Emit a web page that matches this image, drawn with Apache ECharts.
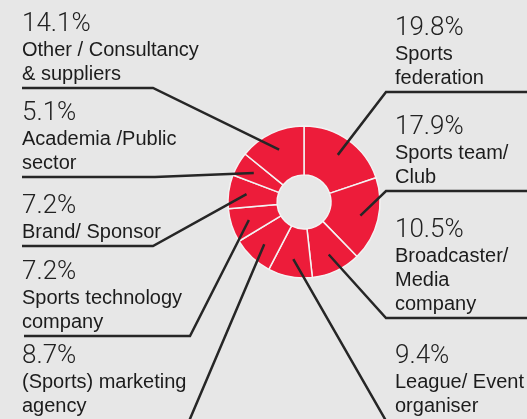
<!DOCTYPE html>
<html>
<head>
<meta charset="utf-8">
<script src="https://cdn.jsdelivr.net/npm/echarts@6/dist/echarts.min.js"></script>
<style>
html, body { margin: 0; padding: 0; background: #e7e7e7; }
#chart { width: 527px; height: 419px; }
</style>
</head>
<body>
<div id="chart"></div>
<script>
// clockwise from 12 o'clock
var categories = ['Sports\nfederation', 'Sports team/\nClub', 'Broadcaster/\nMedia\ncompany', 'League/ Event\norganiser',
	'(Sports) marketing\nagency', 'Sports technology\ncompany', 'Brand/ Sponsor', 'Academia /Public\nsector',
	'Other / Consultancy\n& suppliers'];
var shares = [19.8, 17.9, 10.5, 9.4, 8.7, 7.2, 7.2, 5.1, 14.1];

// where each label sits: [textX, underlineY, elbowX, elbowY, endX]
var labelSpots = [
	[395, 92, 386, 92, 527],
	[395, 191, 386, 191, 527],
	[395, 318, 386, 318, 527],
	[395, 420, 397, 440, 527],
	[22, 420, 181, 440, 22],
	[22, 336, 190, 336, 24],
	[22, 246, 153, 246, 22],
	[22, 177, 155, 177, 22],
	[22, 88, 153, 88, 22]
];

var cx = 304, cy = 202, innerR = 27, outerR = 76, lineR = 58;

var chart = echarts.init(document.getElementById('chart'));

var pieData = [];
for (var i = 0; i < shares.length; i++) {
	pieData.push({ name: categories[i], value: shares[i] });
}

function midPoint(idx, p0) {
	var dx, dy;
	if (p0) {
		dx = p0[0] - cx;
		dy = p0[1] - cy;
	} else {
		// fallback: angle from the data itself
		var total = 0, before = 0;
		for (var k = 0; k < shares.length; k++) {
			total += shares[k];
			if (k < idx) before += shares[k];
		}
		var a = (before + shares[idx] / 2) / total * Math.PI * 2;
		dx = Math.sin(a);
		dy = -Math.cos(a);
	}
	var len = Math.sqrt(dx * dx + dy * dy);
	return [cx + dx / len * lineR, cy + dy / len * lineR];
}

chart.setOption({
	backgroundColor: '#e7e7e7',
	animation: false,
	series: [{
		// the red ring
		type: 'pie',
		z: 2,
		center: [cx, cy],
		radius: [innerR, outerR],
		startAngle: 90,
		clockwise: true,
		silent: true,
		data: pieData,
		itemStyle: {
			color: '#ED1C3A',
			borderColor: '#f3f3f3',
			borderWidth: 1.5
		},
		label: { show: false },
		labelLine: { show: false }
	}, {
		// same slices, invisible, only carrying labels + leader lines on top
		type: 'pie',
		z: 5,
		center: [cx, cy],
		radius: [innerR, outerR],
		startAngle: 90,
		clockwise: true,
		avoidLabelOverlap: false,
		silent: true,
		data: pieData,
		itemStyle: { color: 'rgba(0,0,0,0)', borderWidth: 0 },
		label: {
			show: true,
			position: 'outside',
			formatter: function(p) {
				return '{p|' + p.value.toFixed(1) + '%}\n{n|' + p.name.split('\n').join('}\n{n|') + '}';
			},
			rich: {
				p: { fontFamily: 'Roboto', fontWeight: 300, fontSize: 26, lineHeight: 27, color: '#222' },
				n: { fontFamily: 'Liberation Sans', fontSize: 20, lineHeight: 24, color: '#1c1c1c' }
			}
		},
		labelLine: {
			show: true,
			length: 10,
			length2: 10,
			lineStyle: { color: '#262626', width: 2.5 }
		},
		labelLayout: function(params) {
			var s = labelSpots[params.dataIndex];
			var p0 = params.labelLinePoints ? params.labelLinePoints[0] : null;
			return {
				x: s[0],
				y: s[1] - 2,
				align: 'left',
				verticalAlign: 'bottom',
				labelLinePoints: [midPoint(params.dataIndex, p0), [s[2], s[3]], [s[4], s[3]]]
			};
		}
	}]
});
</script>
</body>
</html>
